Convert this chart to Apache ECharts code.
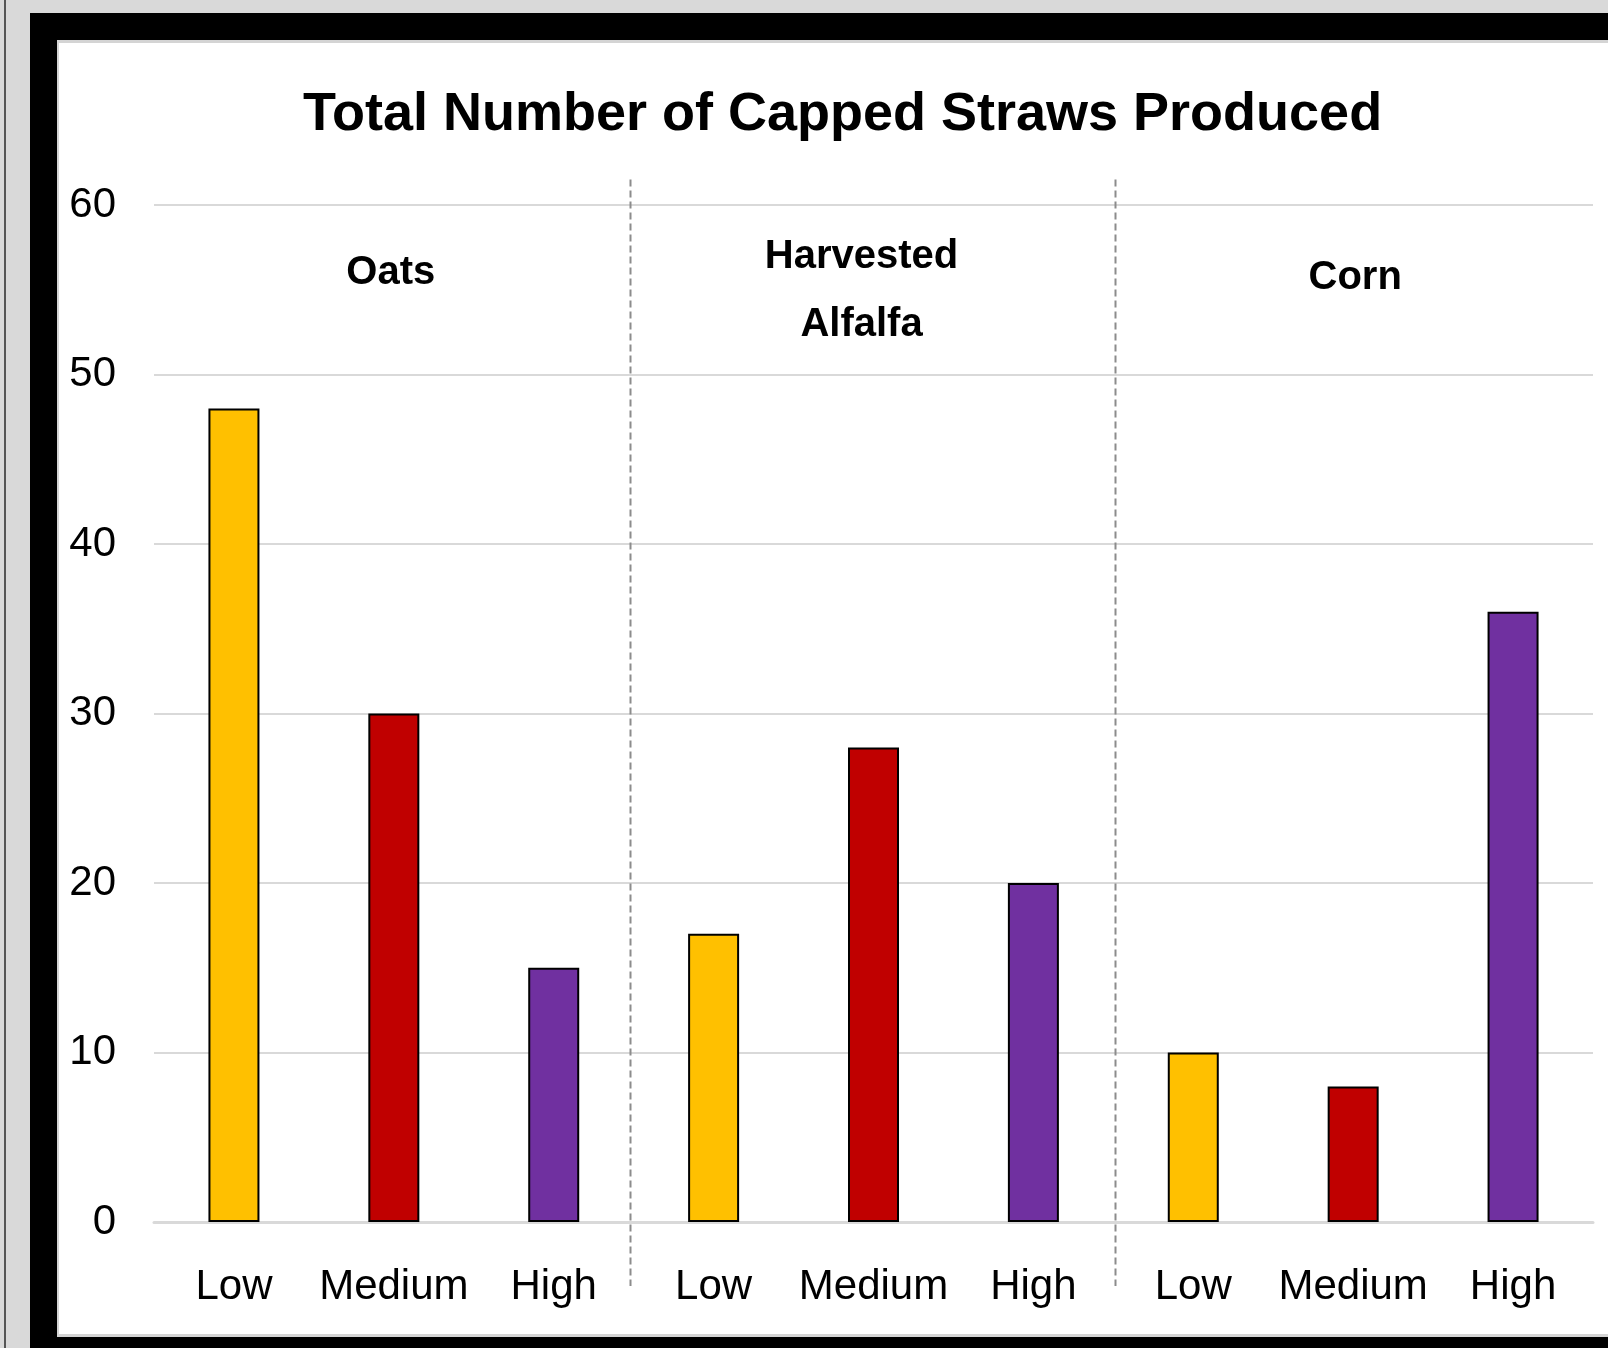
<!DOCTYPE html>
<html>
<head>
<meta charset="utf-8">
<script src="https://cdn.jsdelivr.net/npm/echarts@6/dist/echarts.min.js"></script>
<style>
html,body{margin:0;padding:0;width:1608px;height:1348px;overflow:hidden;background:#d9d9d9;}
#thin{position:absolute;left:4px;top:0;width:2px;height:1348px;background:#555;}
#black{position:absolute;left:30px;top:13px;width:1700px;height:1400px;background:#000;}
#white{position:absolute;left:57px;top:40px;width:1700px;height:1297px;background:#fff;border-top:3px solid #d4d4d4;border-left:2px solid #d4d4d4;border-bottom:3px solid #d4d4d4;box-sizing:border-box;}
#chart{position:absolute;left:0;top:0;width:1608px;height:1348px;}
</style>
</head>
<body>
<div id="thin"></div>
<div id="black"></div>
<div id="white"></div>
<div id="chart"></div>
<script>
const titleText = 'Total Number of Capped Straws Produced';
const groups = ['Oats', 'Harvested\nAlfalfa', 'Corn'];
const levels = ['Low', 'Medium', 'High'];
const oatsValues = [48, 30, 15];
const alfalfaValues = [17, 28, 20];
const cornValues = [10, 8, 36];
const yTicks = [0, 10, 20, 30, 40, 50, 60];
const levelColors = ['#FFC000', '#C00000', '#7030A0'];

const groupValues = [oatsValues, alfalfaValues, cornValues];
const categories = [];
const barData = [];
groups.forEach((g, gi) => {
  levels.forEach((lv, li) => {
    categories.push(gi + '|' + lv);
    barData.push({value: groupValues[gi][li], itemStyle: {color: levelColors[li]}});
  });
});

const FONT = '"Liberation Sans", Arial, sans-serif';
const chart = echarts.init(document.getElementById('chart'), null, {renderer: 'canvas'});
chart.setOption({
  animation: false,
  title: {
    text: titleText,
    left: 298, top: 83,
    textStyle: {fontFamily: FONT, fontWeight: 'bold', fontSize: 54, color: '#000'}
  },
  grid: {left: 154, right: 15, top: 205, bottom: 126, containLabel: false},
  xAxis: {
    type: 'category',
    data: categories,
    axisLine: {show: true, lineStyle: {color: '#d9d9d9', width: 3}},
    axisTick: {show: false},
    axisLabel: {
      interval: 0, margin: 44, fontFamily: FONT, fontSize: 42, color: '#000',
      formatter: v => v.split('|')[1]
    }
  },
  yAxis: {
    type: 'value',
    min: yTicks[0], max: yTicks[yTicks.length - 1], interval: 10,
    axisLine: {show: false},
    axisTick: {show: false},
    splitLine: {lineStyle: {color: '#d9d9d9', width: 2}},
    axisLabel: {margin: 38, fontFamily: FONT, fontSize: 42, color: '#000'}
  },
  series: [{
    type: 'bar',
    data: barData,
    barWidth: 51,
    itemStyle: {borderColor: '#000', borderWidth: 2}
  }]
});

// dividers and group labels positioned through the chart's own scales
const graphics = [];
const dividerNudge = [-4, 2];
for (let gi = 1; gi < groups.length; gi++) {
  const a = chart.convertToPixel({gridIndex: 0}, [gi * 3 - 1, 0]);
  const b = chart.convertToPixel({gridIndex: 0}, [gi * 3, 0]);
  const x = Math.round((a[0] + b[0]) / 2) + dividerNudge[gi - 1] + 0.5;
  const yTop = chart.convertToPixel({gridIndex: 0}, [0, 61.5])[1];
  graphics.push({
    type: 'line', z: 1,
    shape: {x1: x, y1: yTop, x2: x, y2: b[1] + 64},
    style: {stroke: '#8c8c8c', lineWidth: 2, lineDash: [7, 4]}
  });
}
const labelY = [56.0, 54.95, 55.7];
const labelNudge = [-3, -12, 2];
groups.forEach((g, gi) => {
  const p = chart.convertToPixel({gridIndex: 0}, [gi * 3 + 1, labelY[gi]]);
  graphics.push({
    type: 'text', z: 5,
    x: p[0] + labelNudge[gi], y: p[1],
    style: {
      text: g, fontFamily: FONT, fontWeight: 'bold', fontSize: 40,
      fill: '#000', align: 'center', verticalAlign: 'middle', lineHeight: 68
    }
  });
});
chart.setOption({graphic: graphics});
</script>
</body>
</html>
